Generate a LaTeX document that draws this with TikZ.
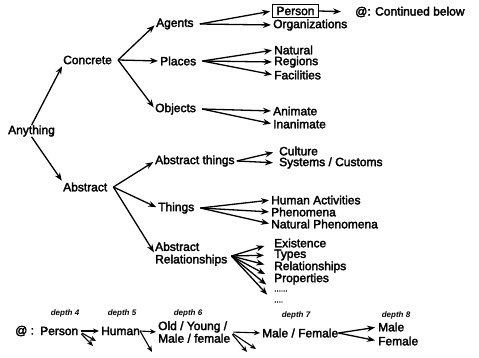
\documentclass[tikz,border=0pt]{standalone}
\usepackage{fontspec}
\setmainfont{Liberation Sans}
\newfontfamily\scan{Liberation Sans}[FakeBold=2.5]
\usetikzlibrary{arrows.meta}

\begin{document}
\begin{tikzpicture}[x=1pt,y=-1pt,
    lbl/.style={anchor=west,inner sep=0pt,align=left,
                font=\scan\fontsize{12}{12.5}\selectfont},
    dep/.style={inner sep=0pt,font=\fontsize{8}{8}\selectfont\bfseries\itshape},
    arr/.style={-{Stealth[length=8pt,width=6pt]},line width=1.3pt,shorten >=2pt},
    sarr/.style={-{Stealth[length=6pt,width=5pt]},line width=1.1pt}]

    \useasboundingbox (0,0) rectangle (479,357);

    % upper tree
    \node[lbl] (anything) at (8,131)  {Anything};
    \node[lbl] (concrete) at (63,60)  {Concrete};
    \node[lbl] (abstract) at (63,187) {Abstract};

    \node[lbl] (agents)   at (156,24)  {Agents};
    \node[lbl] (places)   at (160,61)  {Places};
    \node[lbl] (objects)  at (155,109) {Objects};
    \node[lbl] (absthings) at (155,161) {Abstract things};
    \node[lbl] (things)   at (158,208) {Things};
    \node[lbl] (absrel)   at (155,254) {Abstract\\Relationships};

    \node[lbl,draw,line width=1pt,inner xsep=4pt,inner ysep=2pt] (person) at (272,11) {Person};
    \node[lbl] (contd)    at (355,12)  {@: Continued below};
    \node[lbl] (orgs)     at (273,25)  {Organizations};
    \node[lbl] (natural)  at (274,50)  {Natural};
    \node[lbl] (regions)  at (274,62)  {Regions};
    \node[lbl] (facil)    at (274,75)  {Facilities};
    \node[lbl] (animate)  at (273,111) {Animate};
    \node[lbl] (inanim)   at (273,124) {Inanimate};
    \node[lbl] (culture)  at (279,151) {Culture};
    \node[lbl] (systems)  at (279,163) {Systems / Customs};
    \node[lbl] (humact)   at (271,200) {Human Activities};
    \node[lbl] (phenom)   at (271,212) {Phenomena};
    \node[lbl] (natphen)  at (271,224) {Natural Phenomena};
    \node[lbl] (exist)    at (274,243) {Existence};
    \node[lbl] (types)    at (274,255) {Types};
    \node[lbl] (relat)    at (274,267) {Relationships};
    \node[lbl] (props)    at (274,279) {Properties};
    \node[lbl,font=\scan\fontsize{8}{8}\selectfont] (dotsa) at (274,291) {......};
    \node[lbl,font=\scan\fontsize{8}{8}\selectfont] (dotsb) at (274,302) {....};

    \draw[arr] (anything.north) -- (concrete.south west);
    \draw[arr] (anything.south) -- (abstract.north west);

    \coordinate (oc) at ([xshift=6pt]concrete.east);
    \foreach \t in {agents,places,objects} \draw[arr] (oc) -- (\t.west);
    \coordinate (oa) at ([xshift=6pt]abstract.east);
    \foreach \t in {absthings,things,absrel} \draw[arr] (oa) -- (\t.west);

    \coordinate (og) at ([xshift=6pt]agents.east);
    \foreach \t in {person,orgs} \draw[arr] (og) -- (\t.west);
    \draw[arr,shorten >=14pt] (person.east) -- (contd.west);
    \coordinate (op) at ([xshift=6pt]places.east);
    \foreach \t in {natural,regions,facil} \draw[arr] (op) -- (\t.west);
    \coordinate (oo) at ([xshift=6pt]objects.east);
    \foreach \t in {animate,inanim} \draw[arr] (oo) -- (\t.west);
    \coordinate (ot) at ([xshift=2pt]absthings.east);
    \foreach \t in {culture,systems} \draw[arr,shorten >=6pt] (ot) -- (\t.west);
    \coordinate (oh) at ([xshift=6pt]things.east);
    \foreach \t in {humact,phenom,natphen} \draw[arr] (oh) -- (\t.west);
    \coordinate (or) at ([xshift=4pt,yshift=-2pt]absrel.east);
    \foreach \t in {exist,types,relat,props,dotsa,dotsb} \draw[arr,shorten >=10pt] (or) -- (\t.west);

    % depth row
    \node[dep] (d4) at (65,313)  {depth 4};
    \node[dep] (d5) at (122,313) {depth 5};
    \node[dep] (d6) at (188,313) {depth 6};
    \node[dep] (d7) at (296,315) {depth 7};
    \node[dep] (d8) at (396,315) {depth 8};

    \node[lbl] (at)      at (15,331)  {@ :};
    \node[lbl] (personb) at (40,331)  {Person};
    \node[lbl] (human)   at (101,331) {Human};
    \node[lbl] (oldyoung) at (158,332) {Old / Young /\\Male / female};
    \node[lbl] (malefem) at (262,333) {Male / Female};
    \node[lbl] (male)    at (378,327) {Male};
    \node[lbl] (female)  at (378,341) {Female};

    \coordinate (pa) at (93,346);
    \coordinate (pb) at (96,341);
    \coordinate (ha) at (152,352);
    \coordinate (oa1) at (247,352);
    \coordinate (oa2) at (256,349);

    \draw[sarr,shorten <=3pt,shorten >=2pt] (personb.east) -- (human.west);
    \draw[sarr,shorten <=4pt] (personb.east) -- (pa);
    \draw[sarr,shorten <=4pt] (personb.east) -- (pb);
    \draw[sarr,shorten >=2pt] (human.east) -- (oldyoung.west);
    \draw[sarr] (human.east) -- (ha);
    \draw[sarr,shorten <=3pt,shorten >=2pt] (oldyoung.east) -- (malefem.west);
    \draw[sarr,shorten <=3pt] (oldyoung.east) -- (oa1);
    \draw[sarr,shorten <=3pt] (oldyoung.east) -- (oa2);
    \draw[arr,shorten >=3pt] (malefem.east) -- (male.west);
    \draw[arr,shorten >=3pt] (malefem.east) -- (female.west);
\end{tikzpicture}
\end{document}
